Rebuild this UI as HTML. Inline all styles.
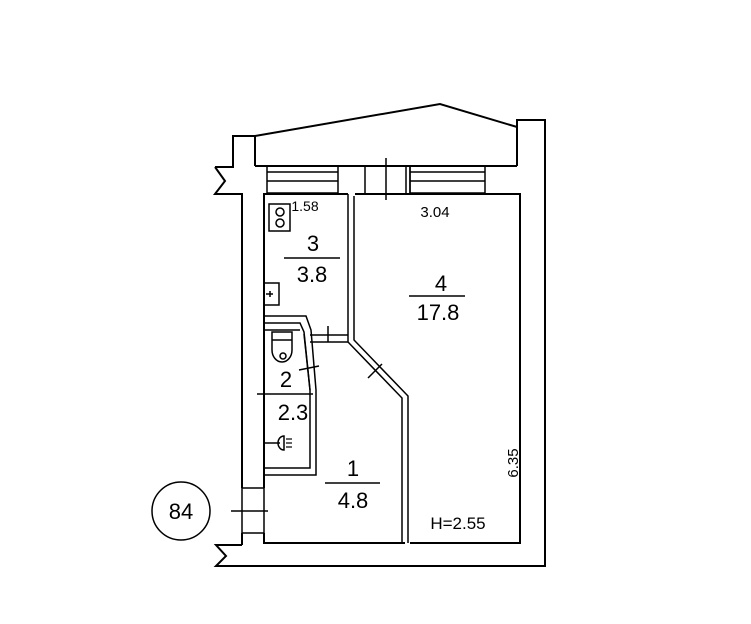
<!DOCTYPE html>
<html><head><style>
html,body{margin:0;padding:0;background:#fff;}
svg{display:block;}
text{font-family:"Liberation Sans",Arial,sans-serif;fill:#000;}
</style></head><body>
<svg width="751" height="624" viewBox="0 0 751 624" xmlns="http://www.w3.org/2000/svg">
<g fill="none" stroke="#000" stroke-width="2">
<polyline points="215,167 233,167 233,136 255,136 440,104 517,127 517,120 545,120 545,566 216,566 226,556 216,545 242,545"/>
<polyline points="215,167 225,181 215,194 242,194 242,488"/>
<line x1="242" y1="533" x2="242" y2="545"/>
<line x1="255" y1="136" x2="255" y2="166"/>
<line x1="255" y1="166" x2="517" y2="166"/>
<line x1="517" y1="166" x2="517" y2="127"/>
<polyline points="264,488 264,194 348,194"/>
<polyline points="264,533 264,543 405,543"/>
<polyline points="355,194 520,194 520,543 410,543"/>
<rect x="267" y="166" width="71" height="27" stroke-width="1.5"/>
<line x1="267" y1="172" x2="338" y2="172" stroke-width="1.5"/>
<line x1="267" y1="181" x2="338" y2="181" stroke-width="1.5"/>
<line x1="365" y1="166" x2="365" y2="193" stroke-width="1.5"/>
<line x1="406" y1="166" x2="406" y2="193" stroke-width="1.5"/>
<line x1="410" y1="166" x2="410" y2="193" stroke-width="1.5"/>
<rect x="410" y="166" width="75" height="27" stroke-width="1.5"/>
<line x1="410" y1="172" x2="485" y2="172" stroke-width="1.5"/>
<line x1="410" y1="181" x2="485" y2="181" stroke-width="1.5"/>
<line x1="386" y1="158" x2="386" y2="200" stroke-width="1.5"/>
<polyline points="348,194 348,342 402,398 402,543" stroke-width="1.5"/>
<polyline points="354,196 354,340 408,396 408,543" stroke-width="1.5"/>
<line x1="368" y1="378" x2="382" y2="364" stroke-width="1.5"/>
<polyline points="264,316 306,316 311,330 316,390 316,475 264,475" stroke-width="1.5"/>
<polyline points="264,323 300,323 304,332 310,390 310,468 264,468" stroke-width="1.5"/>
<line x1="264" y1="330" x2="300" y2="330" stroke-width="1.5"/>
<line x1="304" y1="334" x2="310" y2="390" stroke-width="1.5"/>
<line x1="310" y1="335" x2="348" y2="335" stroke-width="1.5"/>
<line x1="310" y1="342" x2="348" y2="342" stroke-width="1.5"/>
<line x1="328" y1="326" x2="328" y2="342" stroke-width="1.5"/>
<line x1="299" y1="370" x2="319" y2="366" stroke-width="1.5"/>
<rect x="242" y="488" width="22" height="45" stroke-width="1.5"/>
<line x1="231" y1="511" x2="268" y2="511" stroke-width="1.5"/>
<circle cx="181" cy="511" r="29" stroke-width="1.5"/>
<rect x="269" y="204" width="21" height="27" stroke-width="1.5"/>
<circle cx="280" cy="212" r="4" stroke-width="1.5"/>
<circle cx="280" cy="223" r="4" stroke-width="1.5"/>
<rect x="264" y="283" width="15" height="22" stroke-width="1.5"/>
<line x1="266" y1="294" x2="273" y2="294" stroke-width="1.5"/>
<line x1="270" y1="291" x2="270" y2="297" stroke-width="1.5"/>
<path d="M272,332 L272,350 A10,12 0 0 0 292,350 L292,332 Z" stroke-width="1.5"/>
<line x1="272" y1="340" x2="292" y2="340" stroke-width="1.5"/>
<circle cx="283" cy="356" r="3" stroke-width="1.5"/>
<line x1="264" y1="443" x2="280" y2="443" stroke-width="1.5"/>
<path d="M284,436 A6,7 0 0 0 284,450 Z" stroke-width="1.5"/>
<line x1="286" y1="439" x2="292" y2="439" stroke-width="1.2"/>
<line x1="286" y1="443" x2="292" y2="443" stroke-width="1.2"/>
<line x1="286" y1="447" x2="292" y2="447" stroke-width="1.2"/>
<line x1="284" y1="258" x2="340" y2="258" stroke-width="1.5"/>
<line x1="409" y1="296" x2="465" y2="296" stroke-width="1.5"/>
<line x1="257" y1="394" x2="313" y2="394" stroke-width="1.5"/>
<line x1="325" y1="483" x2="380" y2="483" stroke-width="1.5"/>
</g>
<text x="305" y="211" font-size="14" text-anchor="middle">1.58</text>
<text x="435" y="217" font-size="15" text-anchor="middle">3.04</text>
<text x="313" y="251" font-size="22" text-anchor="middle">3</text>
<text x="312" y="282" font-size="22" text-anchor="middle">3.8</text>
<text x="441" y="291" font-size="22" text-anchor="middle">4</text>
<text x="438" y="320" font-size="22" text-anchor="middle">17.8</text>
<text x="286" y="387" font-size="22" text-anchor="middle">2</text>
<text x="293" y="420" font-size="22" text-anchor="middle">2.3</text>
<text x="353" y="476" font-size="22" text-anchor="middle">1</text>
<text x="353" y="508" font-size="22" text-anchor="middle">4.8</text>
<text x="458" y="529" font-size="17" text-anchor="middle">H=2.55</text>
<text x="0" y="0" font-size="15" text-anchor="middle" transform="translate(518,463) rotate(-90)">6.35</text>
<text x="181" y="519" font-size="22" text-anchor="middle">84</text>
</svg>
</body></html>
